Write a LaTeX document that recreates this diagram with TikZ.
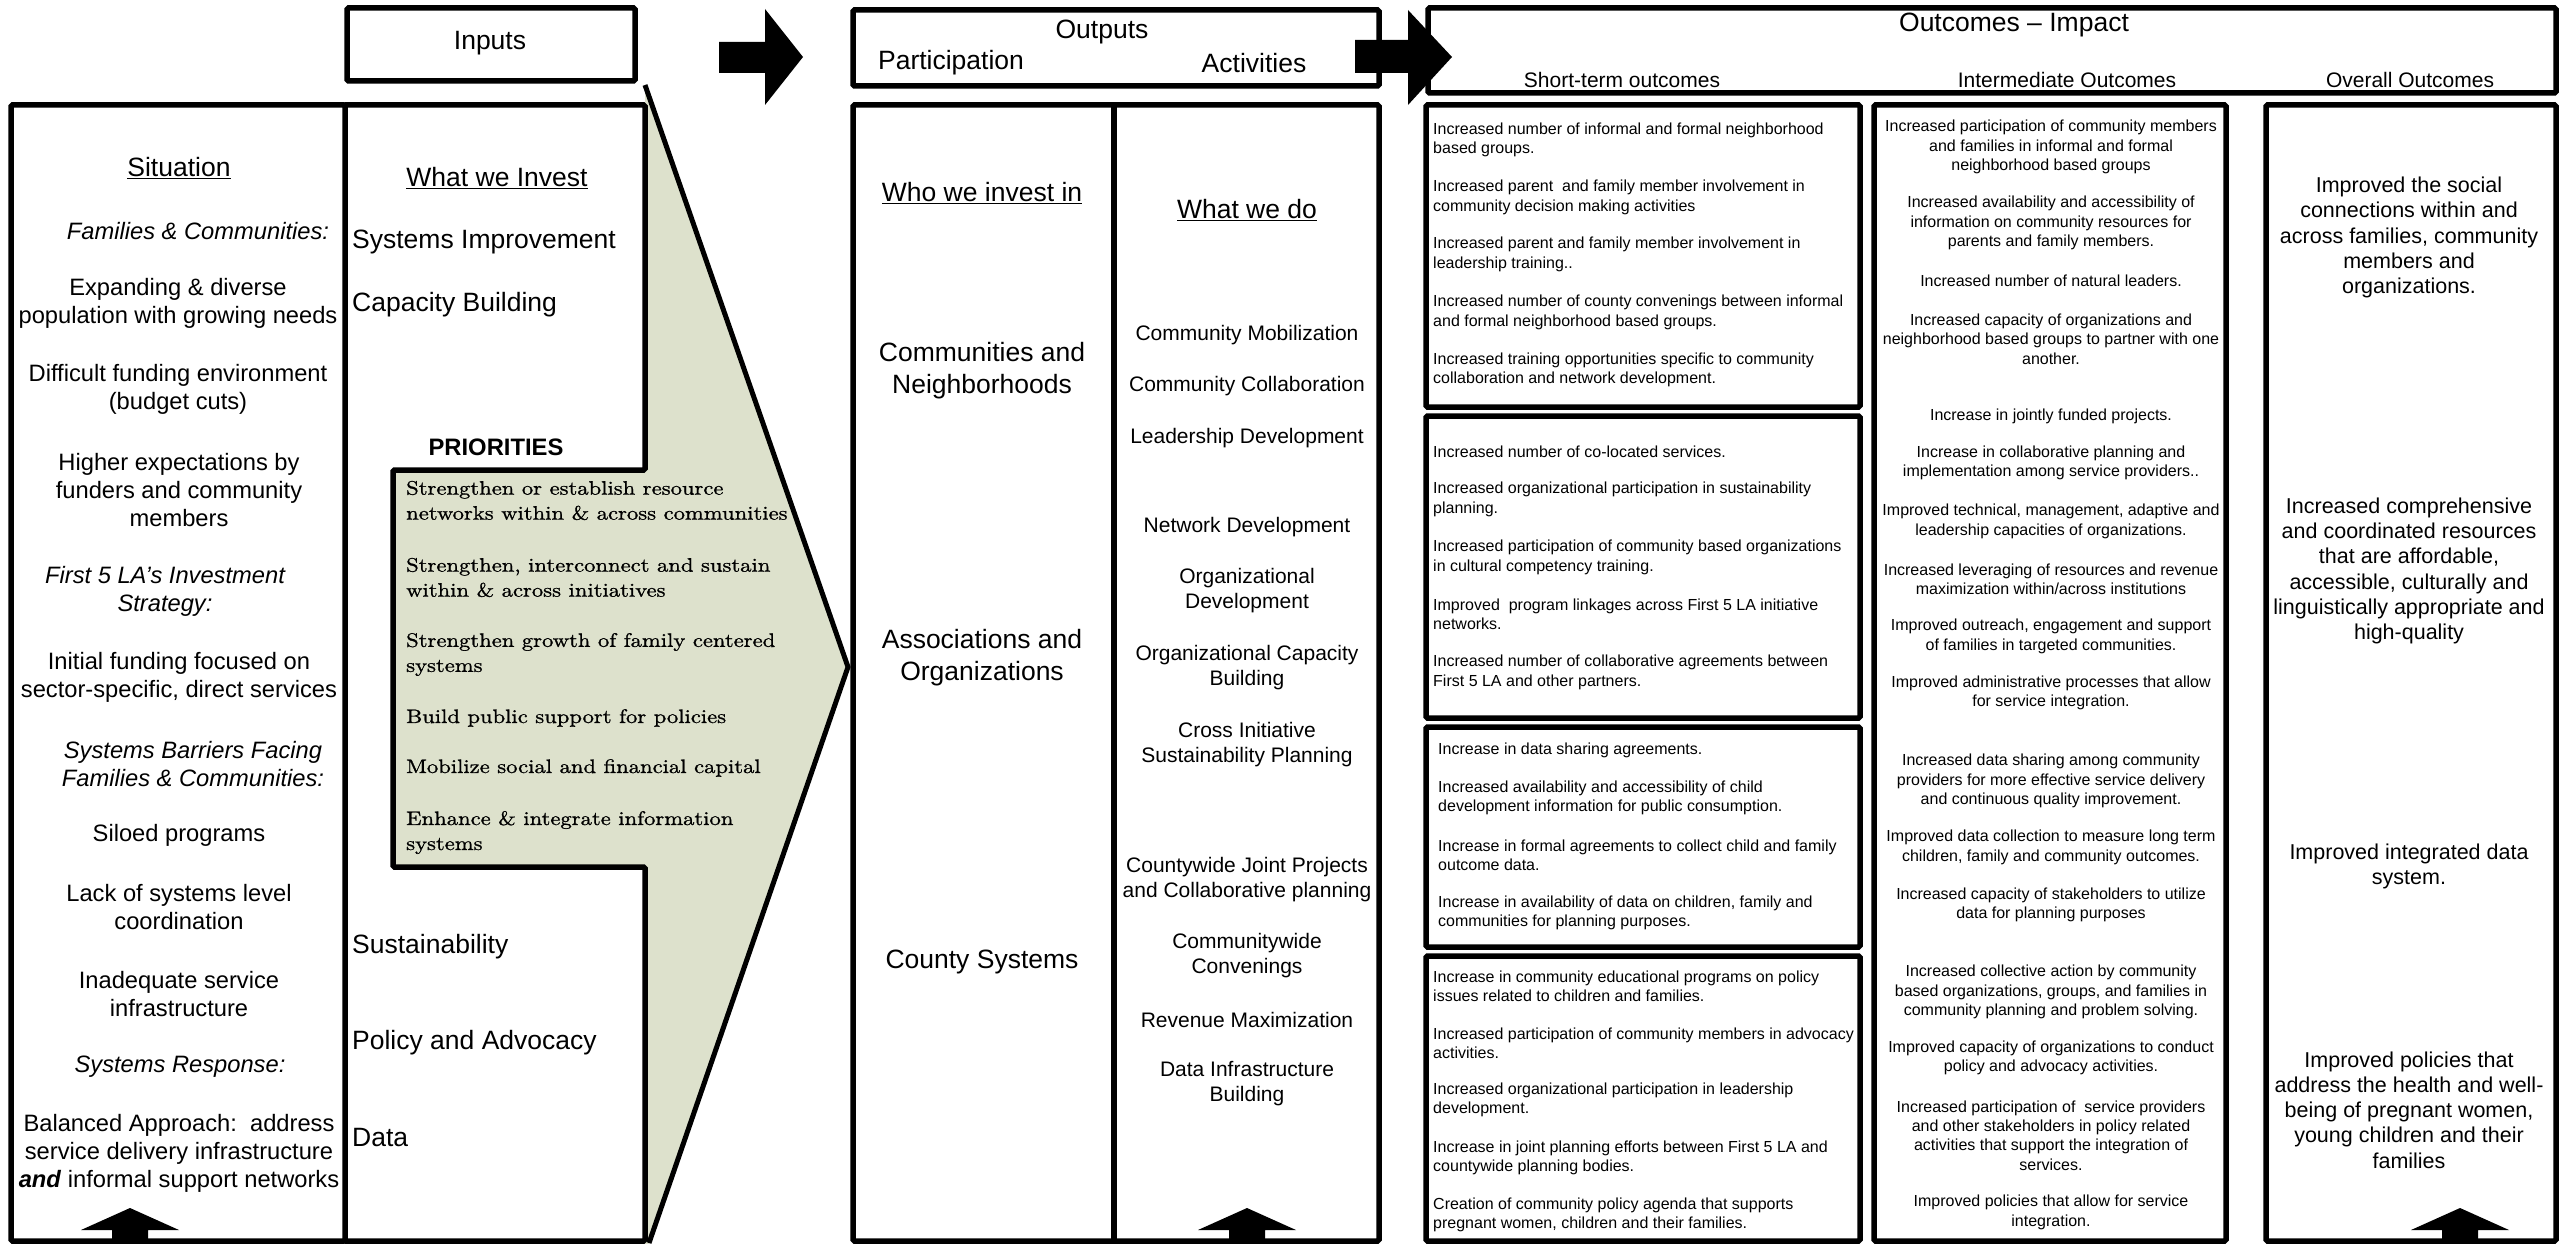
\documentclass[tikz,border=0pt]{standalone}
\usepackage{fontspec}
\newfontfamily\arial{Liberation Sans}
\newfontfamily\prio{lmroman10-regular.otf}[FakeStretch=1.16,FakeBold=1]
\definecolor{funnel}{RGB}{221,225,204}
\tikzset{
  bx/.style={line width=5.5pt, rounded corners=1.5pt},
  txbig/.style={font=\arial\fontsize{26.5}{32}\selectfont, inner sep=0pt, align=center},
  txmed/.style={font=\arial\fontsize{23.7}{28}\selectfont, inner sep=0pt, align=center},
  txact/.style={font=\arial\fontsize{21}{25.3}\selectfont, inner sep=0pt, align=center},
  txov/.style={font=\arial\fontsize{21.5}{25.3}\selectfont, inner sep=0pt, align=center},
  txst/.style={font=\arial\fontsize{16}{19.3}\selectfont, inner sep=0pt, align=left, anchor=west},
  txin/.style={font=\arial\fontsize{16}{19.3}\selectfont, inner sep=0pt, align=center},
  txpr/.style={font=\prio\fontsize{19.5}{25}\selectfont, inner sep=0pt, align=left, anchor=west},
  txleft/.style={font=\arial\fontsize{26.5}{32}\selectfont, inner sep=0pt, anchor=west},
}
\begin{document}
\begin{tikzpicture}[x=1pt,y=-1pt]
\useasboundingbox (0,0) rectangle (2562,1244);
% funnel fill
\fill[funnel] (645,85) -- (848,667) -- (649,1244) -- (645,1244) -- (645,867) -- (393,867) -- (393,470) -- (645,470) -- cycle;
% up arrows
\foreach \cx in {130,1247,2460}{
  \fill (\cx-18,1244) -- (\cx-18,1230) -- (\cx-49,1230) -- (\cx,1208) -- (\cx+49,1230) -- (\cx+18,1230) -- (\cx+18,1244) -- cycle;
}
% boxes
\draw[bx] (347,8) rectangle (635,81);
\draw[bx] (11,105) rectangle (345,1241);
\draw[bx] (345,105) -- (645,105) -- (645,470) -- (393,470) -- (393,867) -- (645,867) -- (645,1241) -- (345,1241);
\draw[line width=5pt, line join=miter] (645,85) -- (848,667) -- (649,1243);
\draw[bx] (853,10) rectangle (1379,86);
\draw[bx] (853,105) rectangle (1379,1241);
\draw[bx] (1114,105) -- (1114,1241);
\draw[bx] (1428,8) rectangle (2556,93);
\draw[bx] (1426,105) rectangle (1860,407);
\draw[bx] (1426,416) rectangle (1860,718);
\draw[bx] (1426,727) rectangle (1860,947);
\draw[bx] (1426,956) rectangle (1860,1241);
\draw[bx] (1874,105) rectangle (2226,1241);
\draw[bx] (2266,105) rectangle (2556,1241);
% right arrows
\fill (719,42) -- (765,42) -- (765,9) -- (803,57) -- (765,105) -- (765,73) -- (719,73) -- cycle;
\fill (1355,40) -- (1408,40) -- (1408,10) -- (1452,57) -- (1408,105) -- (1408,73) -- (1355,73) -- cycle;

% ---- Situation column
\node[txbig] (sit) at (179,168) {\underline{Situation}};
\node[txmed] (sa) at (198,231) {\itshape Families \& Communities:};
\node[txmed] (sb) at (178,303.5) {Expanding \& diverse\\population with growing needs};
\node[txmed] (sc) at (178,389) {Difficult funding environment\\(budget cuts)};
\node[txmed] (sd) at (179,490) {Higher expectations by\\funders and community\\members};
\node[txmed,font=\arial\itshape\fontsize{23.7}{28}\selectfont] (se) at (165,591) {First 5 LA’s Investment\\Strategy:};
\node[txmed] (sf) at (179,677.5) {Initial funding focused on\\sector-specific, direct services};
\node[txmed,font=\arial\itshape\fontsize{23.7}{28}\selectfont] (sg) at (193,764) {Systems Barriers Facing\\Families \& Communities:};
\node[txmed] (sh) at (179,835) {Siloed programs};
\node[txmed] (si) at (179,907.5) {Lack of systems level\\coordination};
\node[txmed] (sj) at (179,994) {Inadequate service\\infrastructure};
\node[txmed] (sk) at (180,1067) {\itshape Systems Response:};
\node[txmed] (sl) at (179,1153) {Balanced Approach:\ \ address\\service delivery infrastructure\\\textbf{\textit{and}} informal support networks};

% ---- Inputs column
\node[txbig] (inp) at (490,43) {Inputs};
\node[txbig] (wwi) at (497,178) {\underline{What we Invest}};
\node[txleft] (ia) at (352,242) {Systems Improvement};
\node[txleft] (ib) at (352,305) {Capacity Building};
\node[txleft] (ic) at (352,947) {Sustainability};
\node[txleft] (id) at (352,1043) {Policy and Advocacy};
\node[txleft] (ie) at (352,1138) {Data};
\node[font=\arial\bfseries\fontsize{23.8}{28}\selectfont, inner sep=0pt] (pri) at (496,447) {PRIORITIES};
\node[txpr] (pa) at (406,500.5) {Strengthen or establish resource\\networks within \& across communities};
\node[txpr] (pb) at (406,577.5) {Strengthen, interconnect and sustain\\within \& across initiatives};
\node[txpr] (pc) at (406,654.5) {Strengthen growth of family centered\\systems};
\node[txpr] (pd) at (406,718) {Build public support for policies};
\node[txpr] (pe) at (406,768) {Mobilize social and financial capital};
\node[txpr] (pf) at (406,832.5) {Enhance \& integrate information\\systems};

% ---- Outputs
\node[txbig] (out) at (1102,32) {Outputs};
\node[txbig] (par) at (951,63) {Participation};
\node[txbig] (act) at (1254,63) {Activities};
\node[txbig] (who) at (982,193) {\underline{Who we invest in}};
\node[txbig] (oa) at (982,371) {Communities and\\Neighborhoods};
\node[txbig] (ob) at (982,658) {Associations and\\Organizations};
\node[txbig] (oc) at (982,962) {County Systems};
\node[txbig] (wwd) at (1247,210) {\underline{What we do}};
\node[txact] (aa) at (1247,335) {Community Mobilization};
\node[txact] (ab) at (1247,386) {Community Collaboration};
\node[txact] (ac) at (1247,438) {Leadership Development};
\node[txact] (ad) at (1247,527) {Network Development};
\node[txact] (ae) at (1247,590.5) {Organizational\\Development};
\node[txact] (af) at (1247,667.5) {Organizational Capacity\\Building};
\node[txact] (ag) at (1247,744.5) {Cross Initiative\\Sustainability Planning};
\node[txact] (ah) at (1247,879.5) {Countywide Joint Projects\\and Collaborative planning};
\node[txact] (ai) at (1247,955.5) {Communitywide\\Convenings};
\node[txact] (aj) at (1247,1020) {Revenue Maximization};
\node[txact] (ak) at (1247,1083.5) {Data Infrastructure\\Building};

% ---- Outcomes header
\node[txbig] (oi) at (2014,25) {Outcomes – Impact};
\node[txact] (sto) at (1622,80) {Short-term outcomes};
\node[txact] (imo) at (2067,80) {Intermediate Outcomes};
\node[txact] (ovo) at (2410,80) {Overall Outcomes};

% ---- Short-term box 1
\node[txst] (t11) at (1433,140) {Increased number of informal and formal neighborhood\\based groups.};
\node[txst] (t12) at (1433,197.5) {Increased parent\ \ and family member involvement in\\community decision making activities};
\node[txst] (t13) at (1433,254.5) {Increased parent and family member involvement in\\leadership training..};
\node[txst] (t14) at (1433,312.5) {Increased number of county convenings between informal\\and formal neighborhood based groups.};
\node[txst] (t15) at (1433,370) {Increased training opportunities specific to community\\collaboration and network development.};
% box 2
\node[txst] (t21) at (1433,452) {Increased number of co-located services.};
\node[txst] (t22) at (1433,499.5) {Increased organizational participation in sustainability\\planning.};
\node[txst] (t23) at (1433,557.5) {Increased participation of community based organizations\\in cultural competency training.};
\node[txst] (t24) at (1433,614.5) {Improved\ \ program linkages across First 5 LA initiative\\networks.};
\node[txst] (t25) at (1433,672.5) {Increased number of collaborative agreements between\\First 5 LA and other partners.};
% box 3
\node[txst] (t31) at (1438,750) {Increase in data sharing agreements.};
\node[txst] (t32) at (1438,798) {Increased availability and accessibility of child\\development information for public consumption.};
\node[txst] (t33) at (1438,855.5) {Increase in formal agreements to collect child and family\\outcome data.};
\node[txst] (t34) at (1438,913) {Increase in availability of data on children, family and\\communities for planning purposes.};
% box 4
\node[txst] (t41) at (1433,986.5) {Increase in community educational programs on policy\\issues related to children and families.};
\node[txst] (t42) at (1433,1043) {Increased participation of community members in advocacy\\activities.};
\node[txst] (t43) at (1433,1100) {Increased organizational participation in leadership\\development.};
\node[txst] (t44) at (1433,1158) {Increase in joint planning efforts between First 5 LA and\\countywide planning bodies.};
\node[txst] (t45) at (1433,1215) {Creation of community policy agenda that supports\\pregnant women, children and their families.};

% ---- Intermediate
\node[txin] (m01) at (2051,147) {Increased participation of community members\\and families in informal and formal\\neighborhood based groups};
\node[txin] (m02) at (2051,223) {Increased availability and accessibility of\\information on community resources for\\parents and family members.};
\node[txin] (m03) at (2051,281) {Increased number of natural leaders.};
\node[txin] (m04) at (2051,339) {Increased capacity of organizations and\\neighborhood based groups to partner with one\\another.};
\node[txin] (m05) at (2051,416) {Increase in jointly funded projects.};
\node[txin] (m06) at (2051,463) {Increase in collaborative planning and\\implementation among service providers..};
\node[txin] (m07) at (2051,521.5) {Improved technical, management, adaptive and\\leadership capacities of organizations.};
\node[txin] (m08) at (2051,579) {Increased leveraging of resources and revenue\\maximization within/across institutions};
\node[txin] (m09) at (2051,636.5) {Improved outreach, engagement and support\\of families in targeted communities.};
\node[txin] (m10) at (2051,693) {Improved administrative processes that allow\\for service integration.};
\node[txin] (m11) at (2051,781) {Increased data sharing among community\\providers for more effective service delivery\\and continuous quality improvement.};
\node[txin] (m12) at (2051,847.5) {Improved data collection to measure long term\\children, family and community outcomes.};
\node[txin] (m13) at (2051,905) {Increased capacity of stakeholders to utilize\\data for planning purposes};
\node[txin] (m14) at (2051,992) {Increased collective action by community\\based organizations, groups, and families in\\community planning and problem solving.};
\node[txin] (m15) at (2051,1058) {Improved capacity of organizations to conduct\\policy and advocacy activities.};
\node[txin] (m16) at (2051,1135.5) {Increased participation of\ \ service providers\\and other stakeholders in policy related\\activities that support the integration of\\services.};
\node[txin] (m17) at (2051,1212.5) {Improved policies that allow for service\\integration.};

% ---- Overall
\node[txov] (v1) at (2409,237.5) {Improved the social\\connections within and\\across families, community\\members and\\organizations.};
\node[txov] (v2) at (2409,571) {Increased comprehensive\\and coordinated resources\\that are affordable,\\accessible, culturally and\\linguistically appropriate and\\high-quality};
\node[txov] (v3) at (2409,866.5) {Improved integrated data\\system.};
\node[txov] (v4) at (2409,1110) {Improved policies that\\address the health and well-\\being of pregnant women,\\young children and their\\families};
\end{tikzpicture}
\end{document}
